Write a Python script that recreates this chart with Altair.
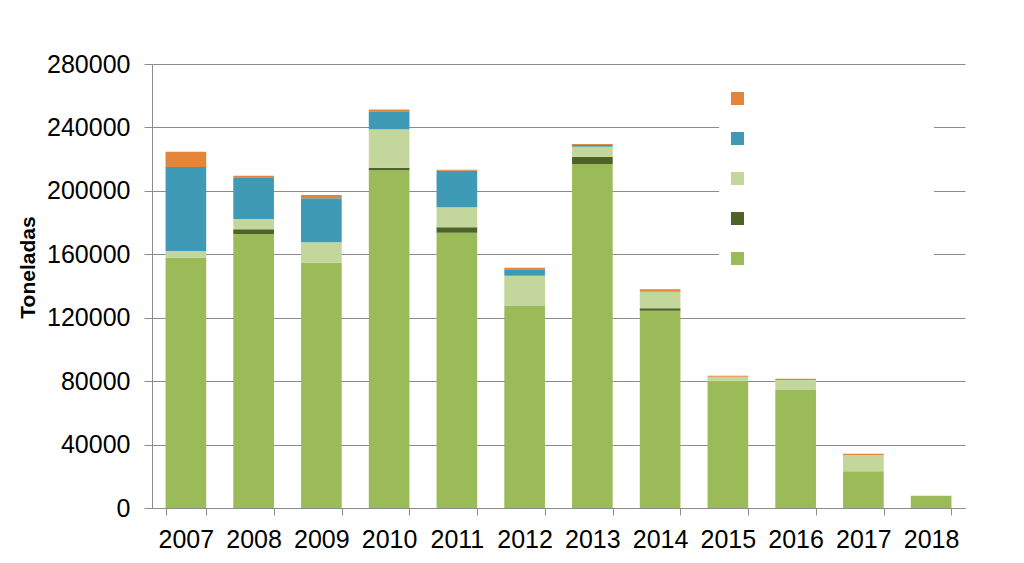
import altair as alt
import pandas as pd

years = [str(y) for y in range(2007, 2019)]
# series, bottom to top of each stack
series = ["Serie 1", "Serie 2", "Serie 3", "Serie 4", "Serie 5"]
colors = ["#9BBB59", "#4F6228", "#C3D69B", "#3F9AB5", "#E5853C"]
s1 = [158000, 172800, 154700, 213000, 173600, 127400, 216900, 124400, 80300, 74400, 23150, 7750]
s2 = [0, 3000, 0, 1500, 3400, 0, 4650, 1500, 0, 0, 0, 0]
s3 = [4100, 6500, 12850, 24400, 12600, 19100, 6300, 10500, 2500, 6300, 10250, 0]
s4 = [53000, 26300, 27750, 11350, 23100, 4000, 1050, 0, 0, 0, 0, 0]
s5 = [9500, 1000, 2100, 1000, 600, 1000, 650, 1600, 600, 850, 850, 0]
y_ticks = [0, 40000, 80000, 120000, 160000, 200000, 240000, 280000]

rows = []
for k, (name, vals) in enumerate(zip(series, [s1, s2, s3, s4, s5])):
    for yr, v in zip(years, vals):
        rows.append({"Año": yr, "Serie": name, "Valor": v, "orden": k})
df = pd.DataFrame(rows)

FONT = "Liberation Sans"
GRAY = "#8C8C8C"

chart = (
    alt.Chart(df)
    .mark_bar()
    .encode(
        x=alt.X(
            "Año:N",
            sort=years,
            scale=alt.Scale(paddingInner=0.4, paddingOuter=0.2),
            axis=alt.Axis(
                title=None,
                labelAngle=0,
                labelFontSize=25,
                labelFont=FONT,
                labelColor="#000000",
                labelPadding=12,
                tickBand="extent",
                tickSize=7,
                tickColor=GRAY,
                domainColor=GRAY,
                grid=False,
            ),
        ),
        y=alt.Y(
            "sum(Valor):Q",
            stack="zero",
            scale=alt.Scale(domain=[0, 280000], nice=False),
            axis=alt.Axis(
                title="Toneladas",
                values=y_ticks,
                format="d",
                labelFontSize=25,
                labelFont=FONT,
                labelColor="#000000",
                labelPadding=14,
                tickSize=8,
                tickColor=GRAY,
                domainColor=GRAY,
                gridColor=GRAY,
                titleFont=FONT,
                titleFontSize=21,
                titleFontWeight="bold",
                titleColor="#000000",
                titleX=-124,
                titleY=203,
                titleAngle=270,
                titleAlign="center",
                titleBaseline="middle",
            ),
        ),
        color=alt.Color(
            "Serie:N",
            scale=alt.Scale(domain=series[::-1], range=colors[::-1]),
            legend=alt.Legend(
                title=None,
                orient="none",
                legendX=567,
                legendY=16,
                fillColor="#FFFFFF",
                padding=12,
                symbolType="square",
                symbolSize=169,
                symbolStrokeWidth=0,
                symbolOpacity=1,
                rowPadding=27,
                labelFontSize=10,
                labelOffset=178,
                labelLimit=400,
                labelExpr="'\u00a0'",
            ),
        ),
        order=alt.Order("orden:Q", sort="ascending"),
    )
    .properties(
        width=813,
        height=444,
        autosize=alt.AutoSizeParams(type="none"),
        padding={"left": 144, "top": 56, "right": 51, "bottom": 47},
    )
    .configure_view(stroke=None)
)

chart.save("out.html", embed_options={"renderer": "svg", "actions": False})
